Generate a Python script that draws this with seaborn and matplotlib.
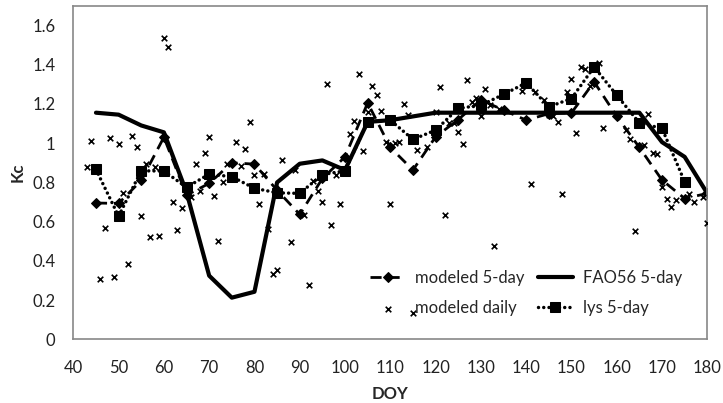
import matplotlib
matplotlib.use("Agg")
import matplotlib.pyplot as plt
import seaborn as sns
import pandas as pd

# ---- data ----
days5 = [45, 50, 55, 60, 65, 70, 75, 80, 85, 90, 95, 100, 105, 110, 115, 120, 125,
         130, 135, 140, 145, 150, 155, 160, 165, 170, 175, 180]
modeled_5day = [0.695, 0.693, 0.81, 1.03, 0.735, 0.795, 0.90, 0.893, 0.76, 0.637, 0.82,
                0.93, 1.205, 0.978, 0.863, 1.032, 1.12, 1.22, 1.168, 1.117, 1.15, 1.154,
                1.312, 1.137, 0.978, 0.812, 0.718, 0.744]
fao56_5day = [1.155, 1.145, 1.09, 1.055, 0.75, 0.325, 0.213, 0.243, 0.80, 0.895, 0.912,
              0.863, 1.108, 1.117, 1.136, 1.155, 1.155, 1.155, 1.155, 1.155, 1.155, 1.155,
              1.155, 1.155, 1.155, 1.005, 0.93, 0.744]
lys_days = days5[:-1]
lys_5day = [0.866, 0.628, 0.859, 0.858, 0.775, 0.842, 0.829, 0.77, 0.747, 0.744, 0.84,
            0.859, 1.108, 1.117, 1.019, 1.066, 1.177, 1.193, 1.248, 1.307, 1.185, 1.227,
            1.388, 1.244, 1.103, 1.075, 0.803]

daily_days = [43, 44, 46, 47, 48, 49, 50, 51, 52, 53, 54, 55, 56, 57, 58, 59, 60, 61, 62,
              63, 64, 66, 67, 68, 69, 70, 71, 72, 73, 74, 76, 77, 78, 79, 80, 81, 82, 83,
              84, 85, 86, 88, 89, 91, 92, 93, 94, 95, 96, 97, 98, 99, 101, 102, 103, 104,
              105, 106, 107, 108, 109, 110, 111, 112, 113, 114, 115, 116, 118, 120, 121,
              122, 123, 124, 125, 126, 127, 128, 129, 130, 131, 132, 133, 134, 139, 141,
              142, 144, 145, 146, 147, 148, 149, 150, 151, 152, 153, 154, 156, 157, 162,
              163, 164, 166, 167, 168, 169, 170, 171, 172, 173, 176, 177, 179, 180]
daily_vals = [0.88, 1.01, 0.31, 0.566, 1.024, 0.317, 0.995, 0.744, 0.383, 1.037, 0.978,
              0.63, 0.893, 0.52, 0.879, 0.525, 1.533, 1.49, 0.70, 0.556, 0.668, 0.727,
              0.893, 0.757, 0.949, 1.029, 0.729, 0.503, 0.80, 0.893, 1.008, 0.885, 0.968,
              1.108, 0.839, 0.688, 0.841, 0.562, 0.335, 0.355, 0.915, 0.498, 0.861, 0.634,
              0.277, 0.807, 0.757, 0.698, 1.30, 0.583, 0.84, 0.688, 1.049, 1.115, 1.351,
              0.961, 1.156, 1.29, 1.243, 1.165, 1.005, 0.69, 1.0, 1.007, 1.20, 1.142,
              0.137, 0.963, 0.98, 1.159, 1.287, 0.634, 1.10, 1.105, 1.058, 0.998, 1.32,
              1.21, 1.23, 1.139, 1.278, 1.193, 0.477, 1.175, 1.266, 0.79, 1.258, 1.222,
              1.142, 1.137, 1.108, 0.74, 1.261, 1.326, 1.054, 1.388, 1.375, 1.29, 1.409,
              1.075, 1.066, 1.02, 0.552, 0.99, 1.146, 0.948, 0.944, 0.775, 0.715, 0.676,
              0.71, 0.739, 0.701, 0.724, 0.591]

x_ticks = list(range(40, 181, 10))
y_ticks = [0, 0.2, 0.4, 0.6, 0.8, 1.0, 1.2, 1.4, 1.6]
y_tick_labels = ["0", "0.2", "0.4", "0.6", "0.8", "1", "1.2", "1.4", "1.6"]

df5 = pd.DataFrame({"DOY": days5, "modeled": modeled_5day, "fao": fao56_5day})
dfl = pd.DataFrame({"DOY": lys_days, "lys": lys_5day})
dfd = pd.DataFrame({"DOY": daily_days, "Kc": daily_vals})

# ---- style ----
sns.set_style("white")
plt.rcParams["font.family"] = ["Lato", "DejaVu Sans"]

fig = plt.figure(figsize=(7.23, 4.03), dpi=100)
ax = fig.add_axes([0.1014, 0.1576, 0.8769, 0.8283])

sns.lineplot(data=df5, x="DOY", y="modeled", ax=ax, color="black", lw=2,
             linestyle=(0, (4, 2.5)), marker="D", markersize=5.5, mec="black",
             mfc="black", label="modeled 5-day")
sns.scatterplot(data=dfd, x="DOY", y="Kc", ax=ax, color="black", marker="x",
                s=16, linewidth=1.2, label="modeled daily", zorder=3)
sns.lineplot(data=df5, x="DOY", y="fao", ax=ax, color="black", lw=3,
             label="FAO56 5-day")
sns.lineplot(data=dfl, x="DOY", y="lys", ax=ax, color="black", lw=2.5,
             linestyle=(0, (0.01, 1.5)), dash_capstyle="round", marker="s",
             markersize=7, mec="black", mfc="black", label="lys 5-day")

ax.set_xlim(40, 180)
ax.set_ylim(0, 1.7)
ax.set_xticks(x_ticks)
ax.set_xticklabels([str(t) for t in x_ticks])
ax.set_yticks(y_ticks)
ax.set_yticklabels(y_tick_labels)
ax.tick_params(axis="both", labelsize=12, colors="#222222", length=4,
               direction="out", width=1)
ax.tick_params(axis="x", pad=11)
ax.tick_params(axis="y", pad=9)
ax.tick_params(axis="both", color="#888888")
for s in ax.spines.values():
    s.set_color("#888888")
    s.set_linewidth(1.2)
    s.set_visible(True)

ax.set_xlabel("DOY", fontsize=12, fontweight="bold", labelpad=7)
ax.set_ylabel("Kc", fontsize=12, fontweight="bold", labelpad=5)

h, l = ax.get_legend_handles_labels()
order = [l.index("modeled 5-day"), l.index("modeled daily"),
         l.index("FAO56 5-day"), l.index("lys 5-day")]
ax.legend([h[i] for i in order], [l[i] for i in order], ncol=2, frameon=False,
          loc="upper left", bbox_to_anchor=(0.468, 0.209), fontsize=12,
          handlelength=2.1, labelspacing=0.85, columnspacing=0.8,
          handletextpad=0.6, borderaxespad=0, borderpad=0)

fig.savefig("out.png", dpi=100)
